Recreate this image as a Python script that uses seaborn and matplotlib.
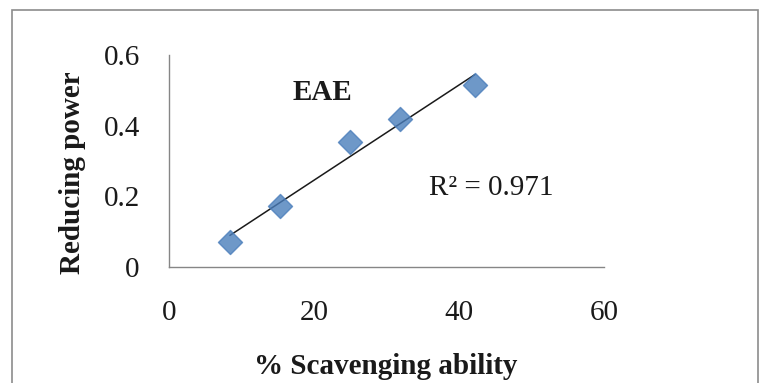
import numpy as np
import pandas as pd
import matplotlib
matplotlib.use("Agg")
import matplotlib.pyplot as plt
import seaborn as sns
from matplotlib.patches import Rectangle

# data
scavenging = [8.4, 15.3, 25.0, 31.8, 42.2]
reducing_power = [0.071, 0.173, 0.355, 0.419, 0.516]
x_ticks = [0, 20, 40, 60]
y_ticks = [0, 0.2, 0.4, 0.6]
y_tick_labels = ["0", "0.2", "0.4", "0.6"]
series_label = "EAE"
r2_label = "R² = 0.971"

df = pd.DataFrame({"x": scavenging, "y": reducing_power})

sns.set_theme(style="white")
plt.rcParams["font.family"] = ["Liberation Serif", "DejaVu Serif"]

W, H = 764, 383
fig = plt.figure(figsize=(W / 100, H / 100), dpi=100)
fig.patch.set_facecolor("white")
fig.patches.append(Rectangle((12 / W, -0.05), (758 - 12) / W, 1.05 - 10 / H,
                             transform=fig.transFigure, fill=False,
                             edgecolor="#8c8c8c", linewidth=1.2))

x0, x1, y0, y1 = 169, 604, 267, 55
ax = fig.add_axes([x0 / W, (H - y0) / H, (x1 - x0) / W, (y0 - y1) / H])
sns.regplot(data=df, x="x", y="y", ax=ax, ci=None, marker="D",
            scatter_kws=dict(s=150, color="#4A7EBB", edgecolors="#4A7EBB", zorder=3),
            line_kws=dict(color="#1a1a1a", linewidth=1.1, zorder=2))

ax.set_xlim(0, 60)
ax.set_ylim(0, 0.6)
ax.set_xticks(x_ticks)
ax.set_yticks(y_ticks)
ax.set_yticklabels(y_tick_labels)
ax.tick_params(axis="both", which="both", direction="out", length=5, width=1,
               color="#868686", labelsize=21, labelcolor="#1a1a1a")
ax.tick_params(axis="x", pad=19)
ax.tick_params(axis="y", pad=16)
for s in ["top", "right"]:
    ax.spines[s].set_visible(False)
for s in ["left", "bottom"]:
    ax.spines[s].set_color("#868686")
    ax.spines[s].set_linewidth(1)

ax.set_xlabel("% Scavenging ability", fontsize=21, fontweight="bold", color="#1a1a1a")
ax.set_ylabel("Reducing power", fontsize=21, fontweight="bold", color="#1a1a1a")
ax.xaxis.set_label_coords((386 - x0) / (x1 - x0), -(366 - y0) / (y0 - y1))
ax.yaxis.set_label_coords(-(169 - 72) / (x1 - x0), (y0 - 173) / (y0 - y1))
ax.xaxis.label.set_va("center")
ax.yaxis.label.set_va("center")

ax.text((322 - x0) / (x1 - x0), (y0 - 92) / (y0 - y1), series_label, transform=ax.transAxes,
        fontsize=21, fontweight="bold", ha="center", va="center", color="#1a1a1a")
ax.text((491 - x0) / (x1 - x0), (y0 - 188) / (y0 - y1), r2_label, transform=ax.transAxes,
        fontsize=21, ha="center", va="center", color="#1a1a1a")

fig.savefig("out.png", dpi=100, facecolor="white")
